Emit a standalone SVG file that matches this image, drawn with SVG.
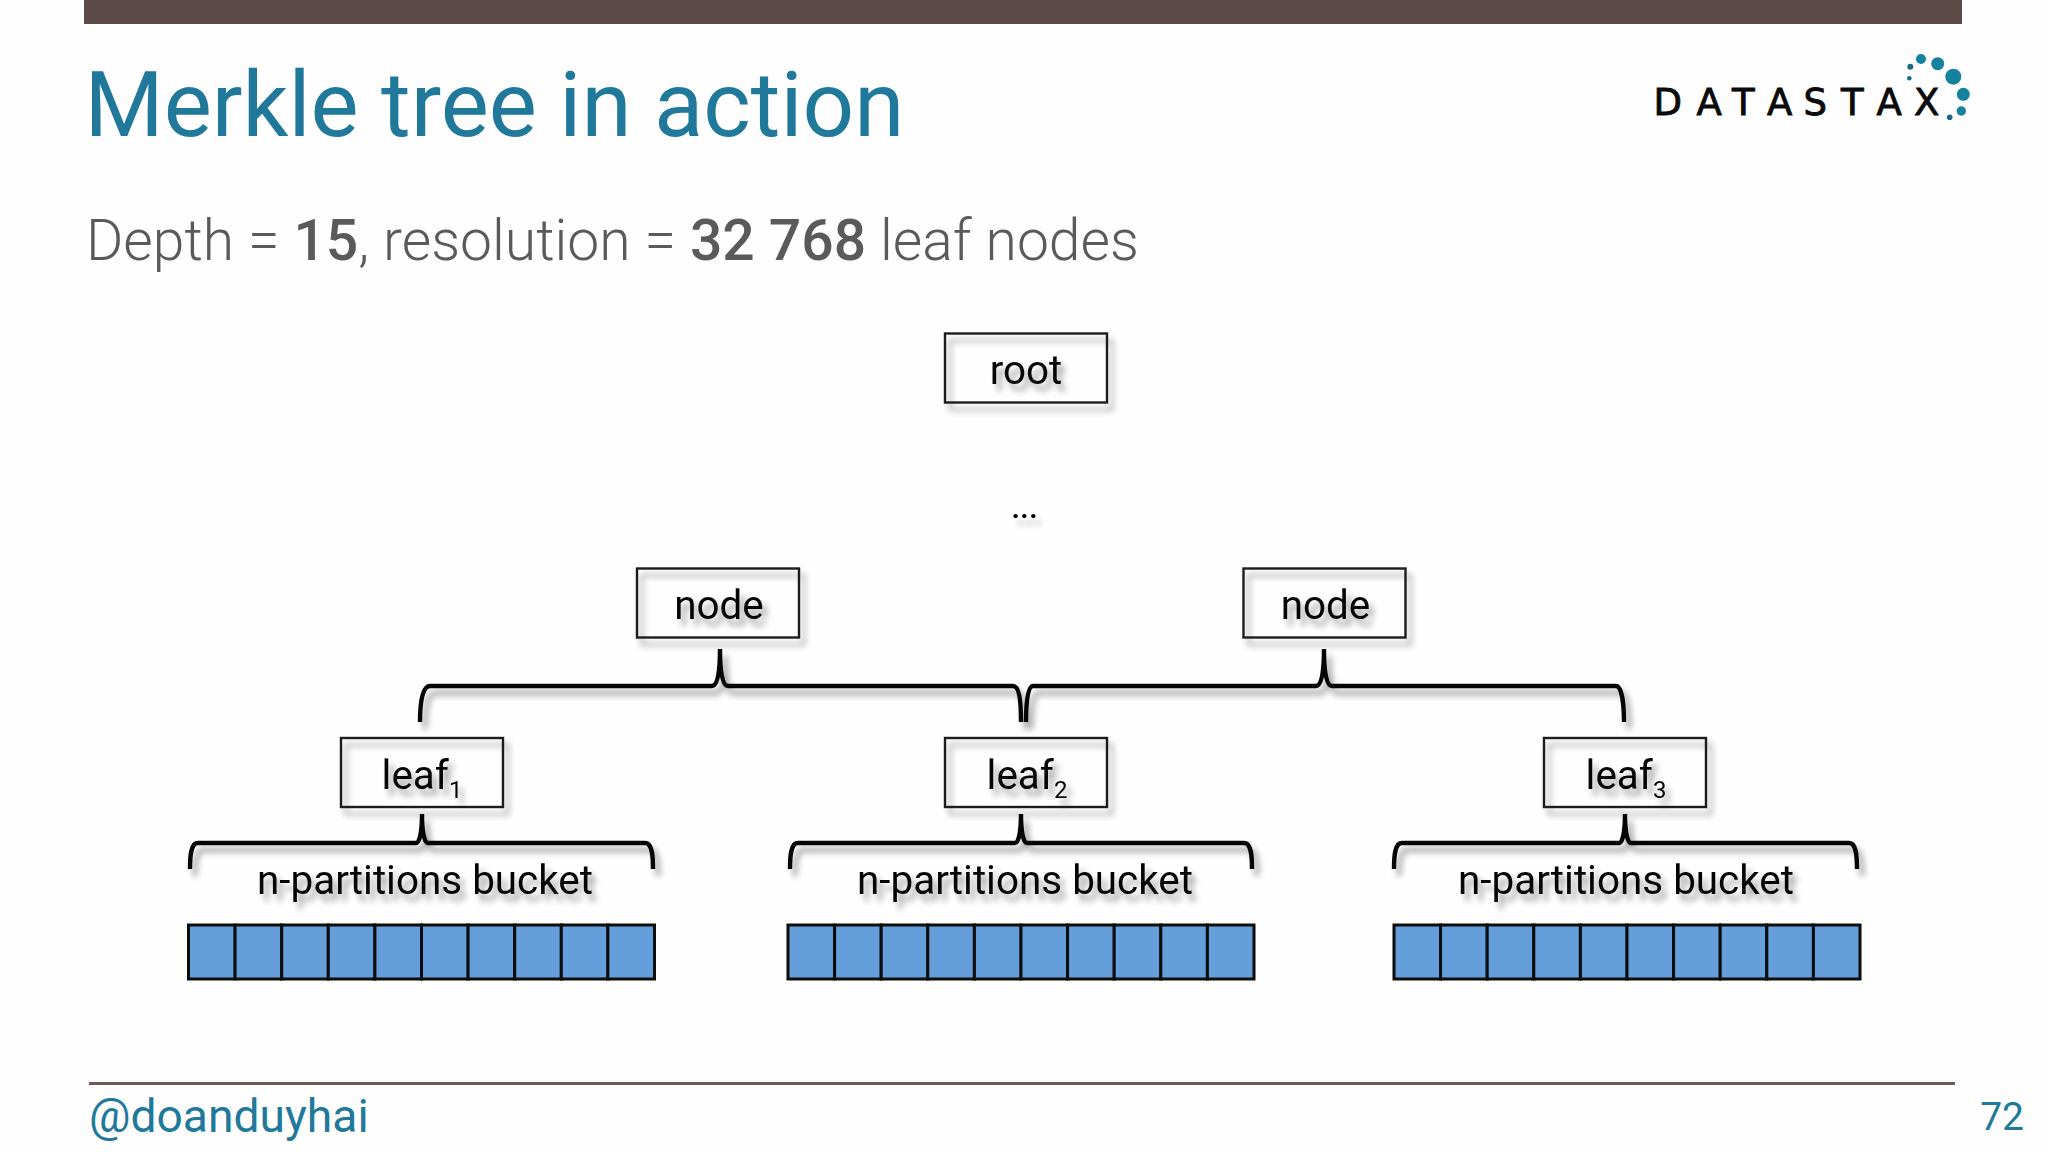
<svg xmlns="http://www.w3.org/2000/svg" width="2048" height="1152" viewBox="0 0 2048 1152">
<defs>
<style>
text{font-family:Roboto,"Liberation Sans",sans-serif}
.lbl{font-size:40.400px;fill:#050505;text-anchor:middle}
.sub{font-size:24px}
.box{fill:none;stroke:#1c1c1c;stroke-width:2.4}
.brace{fill:none;stroke:#050505;stroke-width:4.400}
.cell{fill:#659fdb;stroke:#0d0d0d;stroke-width:3}
.sh{filter:url(#shadow)}
.dot{fill:#14819f}
.dot2{fill:#1a6a86}
</style>
<filter id="shadow" x="-20%" y="-40%" width="140%" height="190%" color-interpolation-filters="sRGB">
<feGaussianBlur in="SourceAlpha" stdDeviation="3"/>
<feOffset dx="5" dy="7"/>
<feComponentTransfer><feFuncA type="linear" slope="0.38"/></feComponentTransfer>
<feMerge><feMergeNode/><feMergeNode in="SourceGraphic"/></feMerge>
</filter>
</defs>
<rect width="2048" height="1152" fill="#fefefe"/>
<rect id="top-bar" x="84" y="0" width="1878" height="24" fill="#5b4a47"/>
<text id="title" x="84.500" y="136" font-size="90.700" fill="#20799a">Merkle tree in action</text>
<text id="subtitle" x="86" y="259.500" font-size="57" font-weight="300" fill="#5a5a5a">Depth = <tspan font-weight="500">15</tspan>, resolution = <tspan font-weight="500">32 768</tspan> leaf nodes</text>
<g id="logo">
<text x="1653.500 1696.500 1732 1767 1803.500 1841 1876.500 1914" y="115" font-size="37" style="font-family:'DejaVu Sans',sans-serif" fill="#0a0a0a" stroke="#0a0a0a" stroke-width="0.9">DATASTAX</text>
<circle class="dot" cx="1921" cy="59" r="5"/><circle class="dot" cx="1937.700" cy="63.700" r="6.500"/><circle class="dot" cx="1953.300" cy="76.700" r="8"/><circle class="dot" cx="1963.300" cy="94.300" r="6.500"/><circle class="dot" cx="1961.300" cy="111" r="4.700"/><circle class="dot2" cx="1949.700" cy="117.300" r="2.800"/><circle class="dot2" cx="1910.300" cy="66.700" r="3"/><circle class="dot2" cx="1909.300" cy="78.300" r="2.300"/>
</g>
<g id="connectors">
<path class="brace sh" d="M420 722C420 700 423 686 430 686H712C718 686 720 670 720 649C720 670 722 686 728 686H1013C1019 686 1021 700 1021 722"/>
<path class="brace sh" d="M1026 722C1026 700 1028 686 1033 686H1316C1322 686 1324 670 1324 649C1324 670 1326 686 1332 686H1616C1621 686 1624 700 1624 722"/>
<path class="brace sh" d="M190 869C190 855 191 843 198 843H416C420 843 422 830 422 814C422 830 424 843 428 843H645C652 843 653 855 653 869"/>
<path class="brace sh" d="M790 869C790 855 791 843 798 843H1015C1019 843 1021 830 1021 814C1021 830 1023 843 1027 843H1244C1251 843 1252 855 1252 869"/>
<path class="brace sh" d="M1394 869C1394 855 1395 843 1402 843H1619C1623 843 1625 830 1625 814C1625 830 1627 843 1631 843H1849C1856 843 1857 855 1857 869"/>
</g>
<g id="root"><rect class="box sh" x="945" y="333.500" width="162" height="69"/><text class="lbl sh" x="1026" y="384">root</text></g>
<text id="ellipsis" class="lbl sh" x="1024.500" y="518" style="font-size:32px;font-weight:500">...</text>
<g id="node-1"><rect class="box sh" x="637" y="568.500" width="162" height="69"/><text class="lbl sh" x="719" y="619">node</text></g>
<g id="node-2"><rect class="box sh" x="1243.500" y="568.500" width="162" height="69"/><text class="lbl sh" x="1325.500" y="619">node</text></g>
<g id="leaf-1"><rect class="box sh" x="341" y="738" width="162" height="69"/><text class="lbl sh" x="422" y="789">leaf<tspan class="sub" dy="9">1</tspan></text></g>
<g id="leaf-2"><rect class="box sh" x="945" y="738" width="162" height="69"/><text class="lbl sh" x="1027" y="789">leaf<tspan class="sub" dy="9">2</tspan></text></g>
<g id="leaf-3"><rect class="box sh" x="1544" y="738" width="162" height="69"/><text class="lbl sh" x="1626" y="789">leaf<tspan class="sub" dy="9">3</tspan></text></g>
<text id="bucket-label-1" class="lbl sh" x="425" y="894">n-partitions bucket</text>
<text id="bucket-label-2" class="lbl sh" x="1025" y="894">n-partitions bucket</text>
<text id="bucket-label-3" class="lbl sh" x="1626" y="894">n-partitions bucket</text>
<g id="bucket-1"><rect class="cell" x="188.500" y="925" width="46.600" height="54"/><rect class="cell" x="235.100" y="925" width="46.600" height="54"/><rect class="cell" x="281.700" y="925" width="46.600" height="54"/><rect class="cell" x="328.300" y="925" width="46.600" height="54"/><rect class="cell" x="374.900" y="925" width="46.600" height="54"/><rect class="cell" x="421.500" y="925" width="46.600" height="54"/><rect class="cell" x="468.100" y="925" width="46.600" height="54"/><rect class="cell" x="514.700" y="925" width="46.600" height="54"/><rect class="cell" x="561.300" y="925" width="46.600" height="54"/><rect class="cell" x="607.900" y="925" width="46.600" height="54"/></g>
<g id="bucket-2"><rect class="cell" x="788" y="925" width="46.600" height="54"/><rect class="cell" x="834.600" y="925" width="46.600" height="54"/><rect class="cell" x="881.200" y="925" width="46.600" height="54"/><rect class="cell" x="927.800" y="925" width="46.600" height="54"/><rect class="cell" x="974.400" y="925" width="46.600" height="54"/><rect class="cell" x="1021" y="925" width="46.600" height="54"/><rect class="cell" x="1067.600" y="925" width="46.600" height="54"/><rect class="cell" x="1114.200" y="925" width="46.600" height="54"/><rect class="cell" x="1160.800" y="925" width="46.600" height="54"/><rect class="cell" x="1207.400" y="925" width="46.600" height="54"/></g>
<g id="bucket-3"><rect class="cell" x="1394" y="925" width="46.600" height="54"/><rect class="cell" x="1440.600" y="925" width="46.600" height="54"/><rect class="cell" x="1487.200" y="925" width="46.600" height="54"/><rect class="cell" x="1533.800" y="925" width="46.600" height="54"/><rect class="cell" x="1580.400" y="925" width="46.600" height="54"/><rect class="cell" x="1627" y="925" width="46.600" height="54"/><rect class="cell" x="1673.600" y="925" width="46.600" height="54"/><rect class="cell" x="1720.200" y="925" width="46.600" height="54"/><rect class="cell" x="1766.800" y="925" width="46.600" height="54"/><rect class="cell" x="1813.400" y="925" width="46.600" height="54"/></g>
<rect id="footer-line" x="89" y="1082" width="1866" height="3" fill="#6b5a57"/>
<text id="handle" x="89" y="1132" font-size="46.200" fill="#20799a">@doanduyhai</text>
<text id="page" x="2024" y="1130" font-size="39" fill="#20799a" text-anchor="end">72</text>
</svg>
